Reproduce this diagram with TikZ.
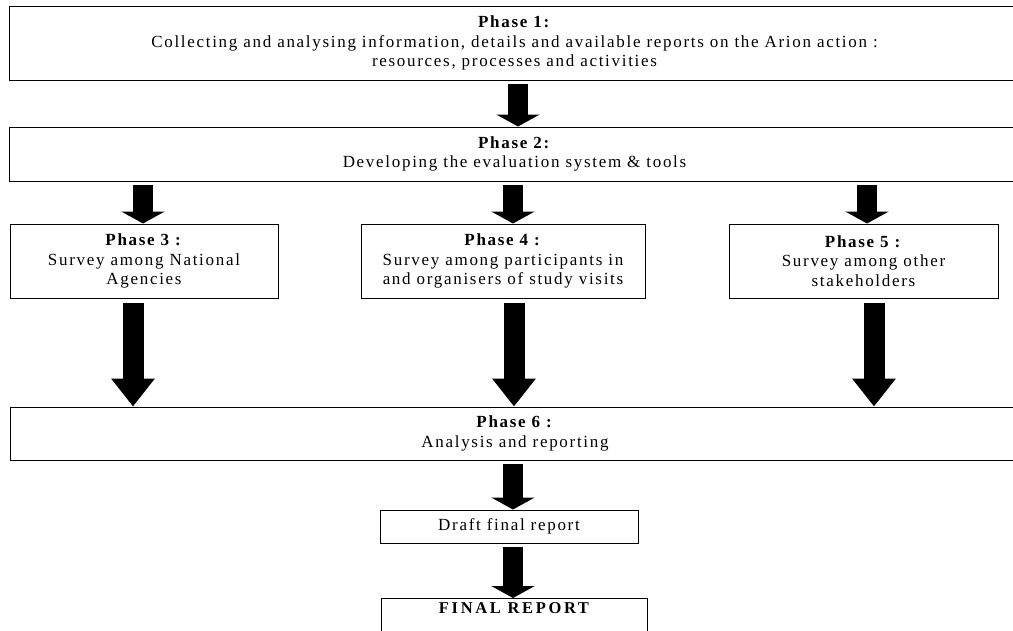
\documentclass[tikz,border=0pt]{standalone}
\usepackage{fontspec}
\setmainfont{Liberation Serif}
\newfontfamily\spc[LetterSpace=10]{Liberation Serif}
\newfontfamily\spcfinal[LetterSpace=16]{Liberation Serif}
\usetikzlibrary{arrows.meta}
\begin{document}
\begin{tikzpicture}[x=1pt,y=1pt,
  frame/.style={draw=black, line width=1pt, rectangle, inner sep=0pt},
  box/.style={frame, align=center, font=\spc\fontsize{17}{19.5}\selectfont},
  fat/.style={draw=black, line width=20pt, -{Triangle[width=43pt,length=12pt]}, shorten <=3pt},
  fatlong/.style={draw=black, line width=21pt, -{Triangle[width=42pt,length=28pt]}, shorten <=4pt}]
\clip (0,0) rectangle (1013,-630);
\fill[white] (0,0) rectangle (1013,-630);

\node[box, minimum width=1011pt, minimum height=74pt] (p1) at (514.5,-43)
  {\textbf{Phase 1:}\\Collecting and analysing information, details and available reports on the Arion action :\\resources, processes and activities};
\node[box, minimum width=1011pt, minimum height=54pt] (p2) at (514.5,-154)
  {\textbf{Phase 2:}\\Developing the evaluation system \& tools};
\node[box, minimum width=268pt, minimum height=74pt] (p3) at (144,-261)
  {\textbf{Phase 3 :}\\Survey among National\\Agencies};
\node[box, minimum width=284pt, minimum height=74pt] (p4) at (503,-261)
  {\textbf{Phase 4 :}\\Survey among participants in\\and organisers of study visits};
\node[box, minimum width=269pt, minimum height=74pt] (p5) at (863.5,-261)
  {\textbf{Phase 5 :}\\Survey among other\\stakeholders};
\node[box, minimum width=1010pt, minimum height=53pt] (p6) at (515,-433.5)
  {\textbf{Phase 6 :}\\Analysis and reporting};
\node[box, minimum width=258pt, minimum height=33pt] (draft) at (509,-526.5)
  {Draft final report};
\node[frame, anchor=north, minimum width=266pt, text height=11pt, text depth=23pt, inner ysep=4pt,
  font=\spcfinal\bfseries\fontsize{16.5}{19}\selectfont] (final) at (514,-598) {FINAL REPORT};

\coordinate (a1) at (518,0);
\coordinate (a3u) at (143,0);
\coordinate (a4u) at (513,0);
\coordinate (a5u) at (867,0);
\coordinate (a3d) at (133,0);
\coordinate (a4d) at (514,0);
\coordinate (a5d) at (874,0);
\coordinate (a6) at (513,0);

\draw[fat] (p1.south -| a1) -- (p2.north -| a1);
\draw[fat] (p2.south -| a3u) -- (p3.north -| a3u);
\draw[fat] (p2.south -| a4u) -- (p4.north -| a4u);
\draw[fat] (p2.south -| a5u) -- (p5.north -| a5u);
\draw[fatlong] (p3.south -| a3d) -- (p6.north -| a3d);
\draw[fatlong] (p4.south -| a4d) -- (p6.north -| a4d);
\draw[fatlong] (p5.south -| a5d) -- (p6.north -| a5d);
\draw[fat] (p6.south -| a6) -- (draft.north -| a6);
\draw[fat] (draft.south -| a6) -- (final.north -| a6);
\end{tikzpicture}
\end{document}
